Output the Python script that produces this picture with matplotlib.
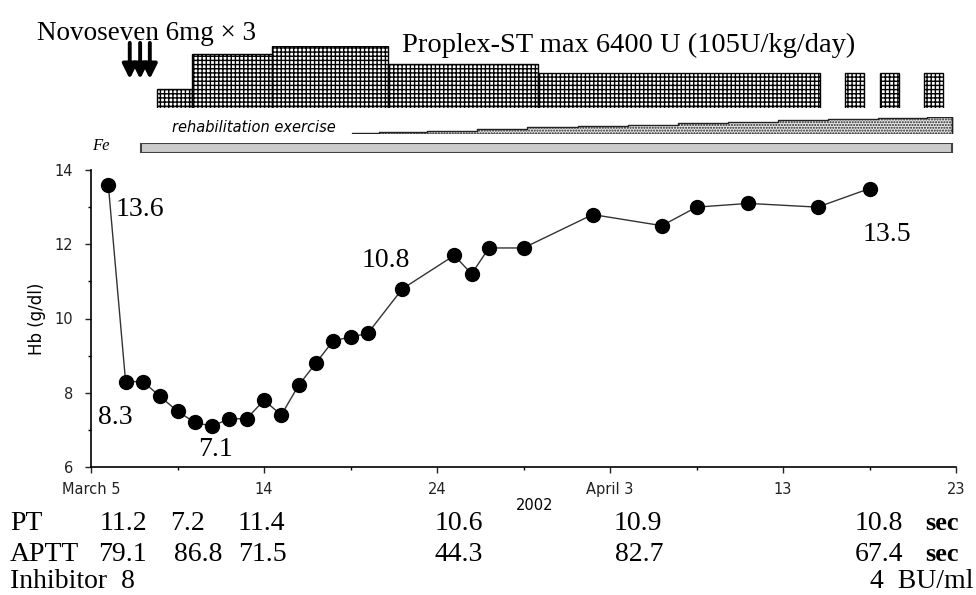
import matplotlib
matplotlib.use('Agg')
import matplotlib.pyplot as plt
import matplotlib.transforms as mtransforms
import numpy as np

W, H = 976, 595

# Hb course (days after March 4, 2002)
hb_days = [1, 2, 3, 4, 5, 6, 7, 8, 9, 10, 11, 12, 13, 14, 15, 16, 18, 21, 22, 23,
           25, 29, 33, 35, 38, 42, 45]
hb_values = [13.6, 8.3, 8.3, 7.9, 7.5, 7.2, 7.1, 7.3, 7.3, 7.8, 7.4, 8.2, 8.8, 9.4,
             9.5, 9.6, 10.8, 11.7, 11.2, 11.9, 11.9, 12.8, 12.5, 13.0, 13.1, 13.0, 13.5]
labelled = {1: '13.6', 2: '8.3', 7: '7.1', 18: '10.8', 45: '13.5'}

x_ticks = [0, 10, 20, 30, 40, 50]
x_tick_labels = ['March 5', '14', '24', 'April 3', '13', '23']

# Novoseven doses
novoseven_days = [2.24, 2.84, 3.40]

# Proplex-ST blocks (start day, end day, dose U)
proplex_start = [3.84, 5.86, 10.49, 17.19, 25.81, 43.58, 45.60, 48.15]
proplex_end = [5.86, 10.49, 17.19, 25.81, 42.13, 44.68, 46.70, 49.25]
proplex_dose = [2000, 5600, 6400, 4550, 3600, 3600, 3600, 3600]

# rehabilitation exercise intensity steps
rehab_edges = [15.1, 16.67, 19.44, 22.34, 25.23, 28.13, 31.02, 33.91, 36.81, 39.70,
               42.59, 45.49, 48.32, 49.77]
rehab_level = [0.75, 1.5, 2.1, 2.9, 4.2, 4.6, 5.2, 6.4, 7.3, 8.1, 8.7, 9.2, 10.0]

# Fe administration
fe_start, fe_end = 2.9, 49.77

# coagulation table
pt_values = ['11.2', '7.2', '11.4', '10.6', '10.9', '10.8']
aptt_values = ['79.1', '86.8', '71.5', '44.3', '82.7', '67.4']
pt_right = [147, 205, 285, 483, 662, 903]
aptt_right = [147, 222, 287, 483, 663, 903]

serif = 'Liberation Serif'
sans = 'DejaVu Sans'
plt.rcParams['hatch.linewidth'] = 1.0


def rect(x0, y0, x1, y1):
    # pixel box (top-left origin) -> figure fraction rect
    return [x0 / W, 1 - y1 / H, (x1 - x0) / W, (y1 - y0) / H]


fig = plt.figure(figsize=(W / 100, H / 100), dpi=100)

# ---- main Hb plot
ax = fig.add_axes(rect(91, 170, 956, 467))
ax.plot(hb_days, hb_values, color='#333333', lw=1, zorder=2)
ax.plot(hb_days, hb_values, 'o', color='black', ms=10, zorder=3)
ax.set_xlim(0, 50)
ax.set_ylim(6, 14)
ax.set_xticks(x_ticks)
ax.set_xticklabels(x_tick_labels)
ax.set_xticks([5, 15, 25, 35, 45], minor=True)
ax.set_yticks([6, 8, 10, 12, 14])
ax.set_yticks([7, 9, 11, 13], minor=True)
for side in ['top', 'right']:
    ax.spines[side].set_visible(False)
for side in ['left', 'bottom']:
    ax.spines[side].set_linewidth(1.2)
ax.tick_params(which='major', length=4, width=1, labelsize=10.5, colors='#222222')
ax.tick_params(which='minor', length=2.5, width=1)
ax.tick_params(axis='x', pad=7)
ax.tick_params(axis='y', pad=9)
for t in ax.get_xticklabels() + ax.get_yticklabels():
    t.set_family(sans)
ax.set_ylabel('Hb (g/dl)', fontsize=12, family=sans, labelpad=6)

offsets = {1: (32, -25), 2: (-10, -36), 7: (3, -23), 18: (-17, 28), 45: (17, -46)}
for d, txt in labelled.items():
    v = hb_values[hb_days.index(d)]
    ax.annotate(txt, (d, v), xytext=offsets[d], textcoords='offset pixels',
                ha='center', va='center', fontsize=20, family=serif)

fig.text(535 / W, 1 - 505 / H, '2002', ha='center', va='center', fontsize=10.5, family=sans)

# ---- Proplex-ST blocks
ax_dose = fig.add_axes(rect(91, 46, 956, 108.3))
ax_dose.set_xlim(0, 50)
ax_dose.set_ylim(0, 6400)
ax_dose.axis('off')
widths = np.array(proplex_end) - np.array(proplex_start)
ax_dose.bar(proplex_start, proplex_dose, width=widths, align='edge', facecolor='white',
            edgecolor='black', hatch='++++', linewidth=1)

blend = mtransforms.blended_transform_factory(ax_dose.transData, ax_dose.transAxes)
for d in novoseven_days:
    ax_dose.annotate('', xy=(d, 0.47), xytext=(d, 1.05), xycoords=blend, textcoords=blend,
                     arrowprops=dict(arrowstyle='-|>', lw=2.8, mutation_scale=22,
                                     color='black', shrinkA=0, shrinkB=0),
                     annotation_clip=False)

fig.text(37 / W, 1 - 34 / H, 'Novoseven 6mg \u00d7 3', ha='left', va='center',
         fontsize=19.5, family=serif)
fig.text(402 / W, 1 - 45 / H, 'Proplex-ST max 6400 U (105U/kg/day)', ha='left',
         va='center', fontsize=20.5, family=serif)

# ---- rehabilitation exercise ramp
ax_rehab = fig.add_axes(rect(91, 117, 956, 134.3))
ax_rehab.set_xlim(0, 50)
ax_rehab.set_ylim(0, 10)
ax_rehab.axis('off')
ax_rehab.fill_between(rehab_edges, rehab_level + [rehab_level[-1]], step='post',
                      facecolor='#e8e8e8', edgecolor='#222222', hatch='......', lw=1)
ax_rehab.plot([rehab_edges[-1], rehab_edges[-1]], [0, rehab_level[-1]], color='#222222', lw=1)
fig.text(172 / W, 1 - 127 / H, 'rehabilitation exercise', ha='left', va='center',
         fontsize=10.5, family=sans, style='italic')

# ---- Fe
ax_fe = fig.add_axes(rect(91, 142.7, 956, 152.7))
ax_fe.set_xlim(0, 50)
ax_fe.set_ylim(0, 1)
ax_fe.axis('off')
ax_fe.barh(0.5, fe_end - fe_start, left=fe_start, height=1, facecolor='#cccccc',
           edgecolor='#444444', lw=1.5)
fig.text(92 / W, 1 - 146 / H, 'Fe', ha='left', va='center', fontsize=12, family=serif,
         style='italic')

# ---- coagulation table
row_y = [530, 561, 588]
fig.text(10 / W, 1 - row_y[0] / H, 'PT', ha='left', va='baseline', fontsize=20, family=serif)
fig.text(10 / W, 1 - row_y[1] / H, 'APTT', ha='left', va='baseline', fontsize=20, family=serif)
fig.text(10 / W, 1 - row_y[2] / H, 'Inhibitor  8', ha='left', va='baseline', fontsize=20,
         family=serif)
for v, xr in zip(pt_values, pt_right):
    fig.text(xr / W, 1 - row_y[0] / H, v, ha='right', va='baseline', fontsize=20, family=serif)
for v, xr in zip(aptt_values, aptt_right):
    fig.text(xr / W, 1 - row_y[1] / H, v, ha='right', va='baseline', fontsize=20, family=serif)
for yy in row_y[:2]:
    fig.text(925 / W, 1 - yy / H, 'sec', ha='left', va='baseline', fontsize=19,
             family=serif, weight='bold')
fig.text(973 / W, 1 - row_y[2] / H, '4  BU/ml', ha='right', va='baseline', fontsize=20,
         family=serif)

fig.savefig('out.png', dpi=100)
